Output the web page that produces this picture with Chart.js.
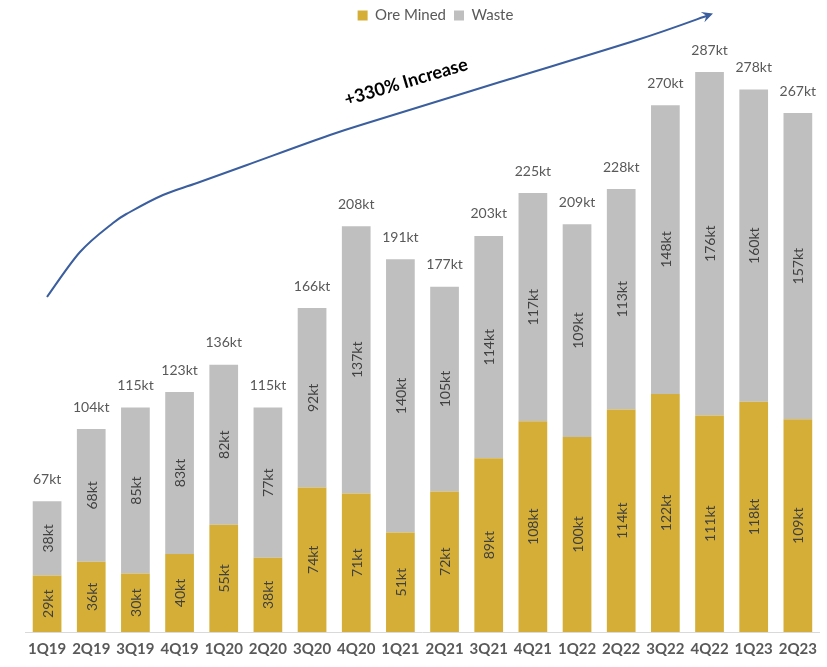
<!DOCTYPE html>
<html>
<head>
<meta charset="utf-8">
<script src="https://cdn.jsdelivr.net/npm/chart.js@4.4.0/dist/chart.umd.min.js"></script>
<style>
  html, body { margin: 0; padding: 0; background: #fff; }
  #wrap { width: 827px; height: 667px; }
</style>
</head>
<body>
<div id="wrap"><canvas id="myChart" width="827" height="667"></canvas></div>
<script>
(function() {
    'use strict';

    const quarters = ['1Q19', '2Q19', '3Q19', '4Q19', '1Q20', '2Q20', '3Q20', '4Q20', '1Q21',
                      '2Q21', '3Q21', '4Q21', '1Q22', '2Q22', '3Q22', '4Q22', '1Q23', '2Q23'];
    const oreMined = [29, 36, 30, 40, 55, 38, 74, 71, 51, 72, 89, 108, 100, 114, 122, 111, 118, 109];
    const waste = [38, 68, 85, 83, 82, 77, 92, 137, 140, 105, 114, 117, 109, 113, 148, 176, 160, 157];
    const totals = [67, 104, 115, 123, 136, 115, 166, 208, 191, 177, 203, 225, 209, 228, 270, 287, 278, 267];

    const fontFam = 'Lato, "Open Sans", sans-serif';

    // the hand drawn growth arrow, passes through these canvas points
    const arrowPts = [[47, 297], [80, 252], [113, 223], [130, 212], [163, 195], [197, 183], [247, 165],
                      [330, 135], [377, 120], [500, 82], [637, 40], [709, 15]];

    function smoothPath(ctx, pts) {
        ctx.moveTo(pts[0][0], pts[0][1]);
        for (let i = 0; i < pts.length - 1; i++) {
            const p0 = pts[Math.max(i - 1, 0)], p1 = pts[i], p2 = pts[i + 1];
            const p3 = pts[Math.min(i + 2, pts.length - 1)];
            ctx.bezierCurveTo(p1[0] + (p2[0] - p0[0]) / 6, p1[1] + (p2[1] - p0[1]) / 6,
                              p2[0] - (p3[0] - p1[0]) / 6, p2[1] - (p3[1] - p1[1]) / 6,
                              p2[0], p2[1]);
        }
    }

    // labels inside segments and totals on top
    const labelPlugin = {
        id: 'barLabels',
        afterUpdate(chart) {
            chart.legend.left += 10;
            chart.legend.right += 10;
        },
        afterDatasetsDraw(chart) {
            const ctx = chart.ctx;
            ctx.save();
            ctx.font = '14px ' + fontFam;
            ctx.fillStyle = '#404040';
            ctx.textAlign = 'center';
            ctx.textBaseline = 'middle';
            chart.data.datasets.forEach((ds, i) => {
                chart.getDatasetMeta(i).data.forEach((bar, j) => {
                    const mid = (bar.y + bar.base) / 2;
                    ctx.save();
                    ctx.translate(bar.x, mid);
                    ctx.rotate(-Math.PI / 2);
                    ctx.fillText(ds.data[j] + 'kt', 0, 1);
                    ctx.restore();
                });
            });
            const top = chart.getDatasetMeta(1).data;
            ctx.fillStyle = '#595959';
            top.forEach((bar, j) => {
                ctx.fillText(totals[j] + 'kt', bar.x, bar.y - 22);
            });

            // growth arrow
            ctx.strokeStyle = '#3A5E9E';
            ctx.lineWidth = 2;
            ctx.beginPath();
            smoothPath(ctx, arrowPts);
            ctx.stroke();
            ctx.fillStyle = '#3A5E9E';
            ctx.save();
            ctx.translate(713, 13.5);
            ctx.rotate(Math.atan2(15 - 40, 709 - 637));
            ctx.beginPath();
            ctx.moveTo(0, 0);
            ctx.lineTo(-11, -5.5);
            ctx.lineTo(-7, 0);
            ctx.lineTo(-11, 5.5);
            ctx.closePath();
            ctx.fill();
            ctx.restore();

            ctx.save();
            ctx.translate(406, 82);
            ctx.rotate(-16.5 * Math.PI / 180);
            ctx.font = 'bold 18px ' + fontFam;
            ctx.fillStyle = '#000';
            ctx.fillText('+330% Increase', 0, 0);
            ctx.restore();
            ctx.restore();
        }
    };

    const ctx = document.getElementById('myChart');

    new Chart(ctx, {
        type: 'bar',
        data: {
            labels: quarters,
            datasets: [{
                label: 'Ore Mined',
                data: oreMined,
                backgroundColor: '#D4AE37'
            }, {
                label: 'Waste',
                data: waste,
                backgroundColor: '#BFBFBF'
            }]
        },
        options: {
            responsive: false,
            animation: false,
            layout: { padding: { left: 25, right: 1, bottom: 0, top: 0 } },
            datasets: { bar: { categoryPercentage: 1, barPercentage: 0.65 } },
            plugins: {
                legend: {
                    labels: {
                        boxWidth: 10, boxHeight: 10, padding: 8,
                        color: '#595959',
                        font: { family: fontFam, size: 15 }
                    }
                },
                tooltip: { enabled: false }
            },
            scales: {
                x: {
                    stacked: true,
                    grid: { display: false, drawTicks: false },
                    border: { color: '#D9D9D9', width: 1 },
                    ticks: {
                        color: '#595959', padding: 10,
                        font: { family: fontFam, size: 15, weight: 'bold', lineHeight: 1 }
                    }
                },
                y: {
                    stacked: true,
                    display: false,
                    min: 0,
                    max: 307
                }
            }
        },
        plugins: [labelPlugin]
    });

})();
</script>
</body>
</html>
